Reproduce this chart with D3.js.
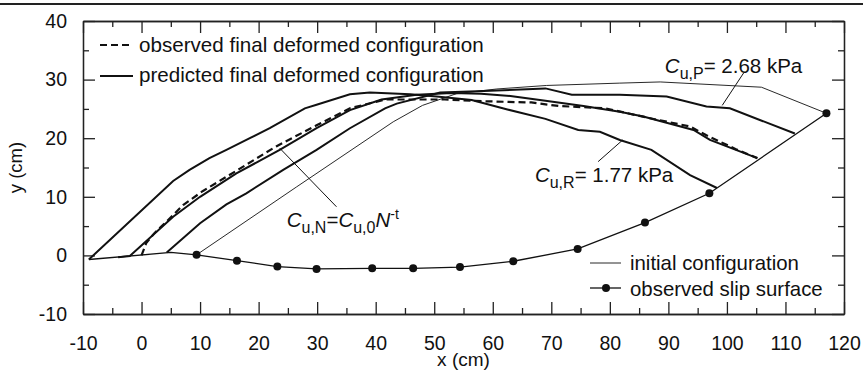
<!DOCTYPE html>
<html>
<head>
<meta charset="utf-8">
<script src="https://cdn.jsdelivr.net/npm/d3@7"></script>
<style>
  body { margin: 0; background: #fff; }
  svg { display: block; font-family: "Liberation Sans", Arial, sans-serif; }
</style>
</head>
<body>
<div id="chart"></div>
<script>
// x, y pairs in cm
const initialCfg = [[9.4,0.1],[26.5,11.7],[43,22.8],[48,25.6],[53.8,27.6],[60.7,28.4],[69.2,29.0],[81.7,29.4],[88.6,29.6],[105.9,28.7],[117,24.25]];
const observedFinal = [[0,0],[0.8,2.1],[2.2,3.8],[4.8,6.3],[7.1,8.6],[10.5,11.0],[16.8,14.8],[23,18.6],[29.9,22.2],[35.6,25.1],[41.6,26.6],[51.8,26.6],[58.7,26.3],[66.6,26.1],[71.2,25.5],[79.2,25.1],[86.9,23.4],[93.7,22.0],[96.5,20.5],[101.7,18.05],[105.2,16.6]];
const predN = [[-4,-0.3],[-2,-0.1],[5.4,6.6],[10,10],[16.2,14.0],[23.6,18.0],[29.9,21.7],[35.6,24.8],[41,26.6],[47,27.4],[53,27.7],[58,27.6],[63,27.2],[69,26.4],[75.5,25.5],[81.7,24.5],[85.7,23.7],[94.3,21.4],[97.1,19.7],[105.2,16.6]];
const predR = [[-9,-0.7],[5.4,12.7],[8.2,14.6],[11.6,16.6],[14.5,18.0],[18.5,20.0],[21.9,21.7],[27.9,25.1],[29.9,25.7],[35.6,27.5],[39,27.8],[45.9,27.5],[50.4,27.1],[56.4,26.5],[62.5,24.9],[69,23.3],[74.6,21.4],[78.3,21.1],[81.7,19.7],[87.1,18.0],[93.7,13.7],[98.3,11.5]];
const predP = [[4.3,0.5],[10,5.5],[14.5,8.7],[17.9,10.6],[24.2,14.6],[29.9,18.0],[35.6,21.7],[41.6,25.1],[43.6,25.9],[51,27.8],[57.3,28.0],[69,28.5],[73.5,27.4],[81.7,27.4],[89.7,27.1],[96.5,25.4],[100.5,25.1],[111.6,20.8]];
// slip surface: base points (no marker) and observed points (marker)
const slipLine = [[-9,-0.7],[5,0.5],[9.4,0.1],[16.3,-0.9],[23.2,-1.9],[29.9,-2.3],[39.4,-2.2],[46.4,-2.2],[54.4,-2.0],[63.5,-1.0],[74.5,1.1],[86.0,5.6],[97.0,10.6],[117.0,24.25]];
const slipObserved = [[9.4,0.1],[16.3,-0.9],[23.2,-1.9],[29.9,-2.3],[39.4,-2.2],[46.4,-2.2],[54.4,-2.0],[63.5,-1.0],[74.5,1.1],[86.0,5.6],[97.0,10.6],[117.0,24.25]];

const xTicks = [-10,0,10,20,30,40,50,60,70,80,90,100,110,120];
const yTicks = [-10,0,10,20,30,40];
const xMinor = [-5,5,15,25,35,45,55,65,75,85,95,105,115];
const yMinor = [-5,5,15,25,35];

// leader lines [x1,y1,x2,y2]
const leaders = [[102.9,31.2,99.2,25.6],[78.0,16.0,82.2,19.7],[33.3,8.3,23.6,18.3]];

const W = 863, H = 371;
const m = {left: 83, right: 19, top: 21, bottom: 57};

const svg = d3.select("#chart").append("svg").attr("width", W).attr("height", H);

// rule at top of figure
svg.append("line").attr("x1", 0).attr("x2", W).attr("y1", 4).attr("y2", 4)
    .attr("stroke", "#222").attr("stroke-width", 2.2);

const x = d3.scaleLinear().domain([-10, 120]).range([m.left, W - m.right]);
const y = d3.scaleLinear().domain([-10, 40]).range([H - m.bottom, m.top]);

const axCol = "#222";
function styleAxis(g) {
    g.selectAll("path").attr("stroke", axCol).attr("stroke-width", 1.3);
    g.selectAll("line").attr("stroke", axCol).attr("stroke-width", 1.3);
    g.selectAll("text").attr("fill", "#111").attr("font-size", 19.5).attr("font-family", "Liberation Sans, Arial, sans-serif");
}
const fmt = d => String(d);

const yb = H - m.bottom, xr = W - m.right;
svg.append("g").attr("transform", `translate(0,${yb})`)
    .call(d3.axisBottom(x).tickValues(xTicks).tickSizeInner(-12).tickSizeOuter(0).tickPadding(22).tickFormat(fmt))
    .call(styleAxis);
svg.append("g").attr("transform", `translate(0,${yb})`)
    .call(d3.axisBottom(x).tickValues(xMinor).tickSizeInner(-6).tickSizeOuter(0).tickFormat(""))
    .call(styleAxis);
svg.append("g").attr("transform", `translate(0,${m.top})`)
    .call(d3.axisTop(x).tickValues(xTicks).tickSizeInner(-12).tickSizeOuter(0).tickFormat(""))
    .call(styleAxis);
svg.append("g").attr("transform", `translate(0,${m.top})`)
    .call(d3.axisTop(x).tickValues(xMinor).tickSizeInner(-6).tickSizeOuter(0).tickFormat(""))
    .call(styleAxis);
svg.append("g").attr("transform", `translate(${m.left},0)`)
    .call(d3.axisLeft(y).tickValues(yTicks).tickSizeInner(-12).tickSizeOuter(0).tickPadding(16).tickFormat(fmt))
    .call(styleAxis);
svg.append("g").attr("transform", `translate(${m.left},0)`)
    .call(d3.axisLeft(y).tickValues(yMinor).tickSizeInner(-6).tickSizeOuter(0).tickFormat(""))
    .call(styleAxis);
svg.append("g").attr("transform", `translate(${xr},0)`)
    .call(d3.axisRight(y).tickValues(yTicks).tickSizeInner(-12).tickSizeOuter(0).tickFormat(""))
    .call(styleAxis);
svg.append("g").attr("transform", `translate(${xr},0)`)
    .call(d3.axisRight(y).tickValues(yMinor).tickSizeInner(-6).tickSizeOuter(0).tickFormat(""))
    .call(styleAxis);

// axis titles
svg.append("text").attr("x", (m.left + xr) / 2).attr("y", 366).attr("text-anchor", "middle")
    .attr("font-size", 19).attr("fill", "#111").text("x (cm)");
svg.append("text").attr("transform", `translate(22,${(m.top + yb) / 2}) rotate(-90)`).attr("text-anchor", "middle")
    .attr("font-size", 18.5).attr("fill", "#111").text("y (cm)");

const line = d3.line().x(d => x(d[0])).y(d => y(d[1]));

svg.append("path").datum(initialCfg).attr("d", line).attr("fill", "none").attr("stroke", "#111").attr("stroke-width", 0.9);
svg.append("path").datum(slipLine).attr("d", line).attr("fill", "none").attr("stroke", "#111").attr("stroke-width", 1.3);
[predR, predN, predP].forEach(s => {
    svg.append("path").datum(s).attr("d", line).attr("fill", "none").attr("stroke", "#111").attr("stroke-width", 2);
});
svg.append("path").datum(observedFinal).attr("d", line).attr("fill", "none").attr("stroke", "#111")
    .attr("stroke-width", 2.2).attr("stroke-dasharray", "7,4");
svg.selectAll("circle.slip").data(slipObserved).enter().append("circle").attr("class", "slip")
    .attr("cx", d => x(d[0])).attr("cy", d => y(d[1])).attr("r", 4).attr("fill", "#111");

// leader lines
svg.selectAll("line.leader").data(leaders).enter().append("line").attr("class", "leader")
    .attr("x1", d => x(d[0])).attr("y1", d => y(d[1])).attr("x2", d => x(d[2])).attr("y2", d => y(d[3]))
    .attr("stroke", "#111").attr("stroke-width", 1);

// annotations
function cuLabel(px, py, sub, rest) {
    const t = svg.append("text").attr("x", x(px)).attr("y", y(py)).attr("font-size", 20.5).attr("fill", "#111");
    t.append("tspan").attr("font-style", "italic").text("C");
    t.append("tspan").attr("font-size", 16).attr("dy", 6).text(sub);
    t.append("tspan").attr("dy", -6).text(rest);
    return t;
}
cuLabel(89.4, 31.1, "u,P", "= 2.68 kPa");
cuLabel(67.2, 12.6, "u,R", "= 1.77 kPa");
const tn = cuLabel(24.8, 4.9, "u,N", "=");
tn.append("tspan").attr("font-style", "italic").text("C");
tn.append("tspan").attr("font-size", 16).attr("dy", 6).text("u,0");
tn.append("tspan").attr("font-style", "italic").attr("dy", -6).text("N");
tn.append("tspan").attr("font-size", 14).attr("dy", -8).text("-t");

// legends
const legTop = [
    {label: "observed final deformed configuration", dash: "7,4", ly: 45, ty: 52},
    {label: "predicted final deformed configuration", dash: null, ly: 76, ty: 82}
];
legTop.forEach(d => {
    svg.append("line").attr("x1", 100).attr("x2", 133).attr("y1", d.ly).attr("y2", d.ly)
        .attr("stroke", "#111").attr("stroke-width", 2).attr("stroke-dasharray", d.dash);
    svg.append("text").attr("x", 139).attr("y", d.ty).attr("font-size", 20.6).attr("fill", "#111").text(d.label);
});
const legBot = [
    {label: "initial configuration", w: 0.9, marker: false, ly: 263, ty: 270},
    {label: "observed slip surface", w: 1.3, marker: true, ly: 288, ty: 296}
];
legBot.forEach(d => {
    svg.append("line").attr("x1", 590).attr("x2", 621).attr("y1", d.ly).attr("y2", d.ly)
        .attr("stroke", "#111").attr("stroke-width", d.w);
    if (d.marker) svg.append("circle").attr("cx", 606).attr("cy", d.ly).attr("r", 4).attr("fill", "#111");
    svg.append("text").attr("x", 630).attr("y", d.ty).attr("font-size", 20.4).attr("fill", "#111").text(d.label);
});
</script>
</body>
</html>
